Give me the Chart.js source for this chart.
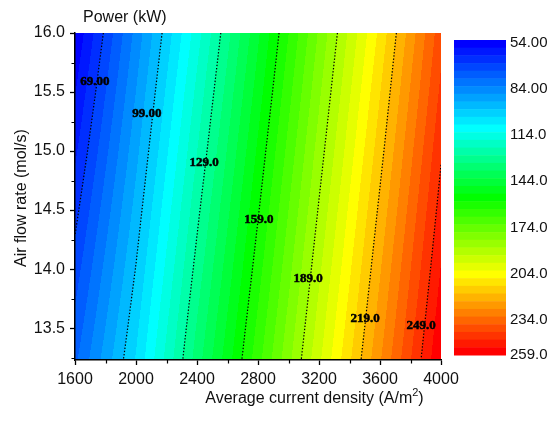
<!DOCTYPE html>
<html>
<head>
<meta charset="utf-8">
<script src="https://cdn.jsdelivr.net/npm/chart.js@4/dist/chart.umd.min.js"></script>
<style>
  html, body { margin: 0; padding: 0; background: #fff; }
</style>
</head>
<body>
<canvas id="chart" width="553" height="421"></canvas>
<script>
// Dados
const currentDensity = [1600, 2000, 2400, 2800, 3200, 3600, 4000];
const airFlow = [13.23, 13.5, 14.0, 14.5, 15.0, 15.5, 16.0];
// Potência (kW): uma linha por valor de airFlow
const powerGrid = [
  [77.9, 104.5, 136.5, 167.1, 198.0, 228.5, 259.0],
  [75.6, 102.7, 134.6, 165.3, 196.2, 226.7, 257.4],
  [71.4, 99.3, 131.0, 161.8, 192.9, 223.5, 254.3],
  [67.2, 95.9, 127.5, 158.4, 189.6, 220.3, 251.3],
  [62.9, 92.5, 123.9, 155.0, 186.3, 217.0, 248.3],
  [58.7, 89.1, 120.4, 151.5, 183.0, 213.8, 245.2],
  [54.5, 85.7, 116.8, 148.1, 179.7, 210.5, 242.2]
];
const contourLevels = [69, 99, 129, 159, 189, 219, 249];
const contourLabels = ['69.00', '99.00', '129.0', '159.0', '189.0', '219.0', '249.0'];
const labelX = [1731, 2072, 2446, 2806, 3128, 3502, 3869];
const labelY = [15.59, 15.32, 14.90, 14.42, 13.92, 13.58, 13.52];
const colorbarTicks = [54, 84, 114, 144, 174, 204, 234, 259];
const colorbarLabels = ['54.00', '84.00', '114.0', '144.0', '174.0', '204.0', '234.0', '259.0'];
const levelMin = 54;
const levelMax = 259;
const levelStep = 5;
const xTicks = [1600, 2000, 2400, 2800, 3200, 3600, 4000];
const xMinorTicks = [1800, 2200, 2600, 3000, 3400, 3800];
const yTicks = [13.5, 14.0, 14.5, 15.0, 15.5, 16.0];
const yMinorTicks = [13.25, 13.75, 14.25, 14.75, 15.25, 15.75];

const FONT = "'Liberation Sans', Arial, sans-serif";
const nBands = Math.round((levelMax - levelMin) / levelStep);

// Paleta arco-íris (azul -> ciano -> verde -> amarelo -> vermelho)
const paletteStops = [
  [0, [0, 0, 255]],
  [0.275, [0, 255, 255]],
  [0.5, [0, 255, 0]],
  [0.75, [255, 255, 0]],
  [1, [255, 0, 0]]
];

function paletteColor(t) {
  for (let k = 0; k < paletteStops.length - 1; k++) {
    const [t0, c0] = paletteStops[k];
    const [t1, c1] = paletteStops[k + 1];
    if (t <= t1) {
      const f = (t - t0) / (t1 - t0);
      return c0.map((c, i) => Math.round(c + (c1[i] - c) * f));
    }
  }
  return paletteStops[paletteStops.length - 1][1];
}

const bandColors = [];
for (let i = 0; i < nBands; i++) bandColors.push(paletteColor(i / (nBands - 1)));

function findCell(arr, v) {
  for (let i = 0; i < arr.length - 2; i++) {
    if (v <= arr[i + 1]) return i;
  }
  return arr.length - 2;
}

// Interpolação bilinear só para pintar o fundo
function powerAt(xv, yv) {
  const i = findCell(currentDensity, xv);
  const j = findCell(airFlow, yv);
  const fx = (xv - currentDensity[i]) / (currentDensity[i + 1] - currentDensity[i]);
  const fy = (yv - airFlow[j]) / (airFlow[j + 1] - airFlow[j]);
  const a = powerGrid[j][i], b = powerGrid[j][i + 1];
  const c = powerGrid[j + 1][i], d = powerGrid[j + 1][i + 1];
  return (a * (1 - fx) + b * fx) * (1 - fy) + (c * (1 - fx) + d * fx) * fy;
}

function bandIndex(v) {
  let b = Math.floor((v - levelMin) / levelStep);
  return Math.max(0, Math.min(nBands - 1, b));
}

// Pontos onde o nível corta as arestas da grade
function contourPoints(level) {
  const pts = [];
  for (let j = 0; j < airFlow.length; j++) {
    for (let i = 0; i < currentDensity.length - 1; i++) {
      const a = powerGrid[j][i], b = powerGrid[j][i + 1];
      if ((a - level) * (b - level) <= 0 && a !== b) {
        const f = (level - a) / (b - a);
        pts.push({ x: currentDensity[i] + f * (currentDensity[i + 1] - currentDensity[i]), y: airFlow[j] });
      }
    }
  }
  for (let i = 0; i < currentDensity.length; i++) {
    for (let j = 0; j < airFlow.length - 1; j++) {
      const a = powerGrid[j][i], b = powerGrid[j + 1][i];
      if ((a - level) * (b - level) < 0) {
        const f = (level - a) / (b - a);
        pts.push({ x: currentDensity[i], y: airFlow[j] + f * (airFlow[j + 1] - airFlow[j]) });
      }
    }
  }
  pts.sort((p, q) => q.y - p.y);
  return pts;
}

const contourPlugin = {
  id: 'contour',
  beforeDraw(chart) {
    const { ctx, chartArea: a, scales: { x, y } } = chart;
    const left = Math.round(a.left), top = Math.round(a.top);
    const w = Math.round(a.right) - left, h = Math.round(a.bottom) - top;
    const img = ctx.createImageData(w, h);
    for (let py = 0; py < h; py++) {
      const yv = y.getValueForPixel(top + py + 0.5);
      for (let px = 0; px < w; px++) {
        const xv = x.getValueForPixel(left + px + 0.5);
        const c = bandColors[bandIndex(powerAt(xv, yv))];
        const k = (py * w + px) * 4;
        img.data[k] = c[0];
        img.data[k + 1] = c[1];
        img.data[k + 2] = c[2];
        img.data[k + 3] = 255;
      }
    }
    ctx.putImageData(img, left, top);
  },
  afterDatasetsDraw(chart) {
    const { ctx, chartArea: a, scales: { x, y } } = chart;
    ctx.save();
    ctx.beginPath();
    ctx.rect(a.left, a.top, a.right - a.left, a.bottom - a.top);
    ctx.clip();
    ctx.strokeStyle = '#000';
    ctx.lineWidth = 1.2;
    ctx.setLineDash([1.4, 1.8]);
    contourLevels.forEach(level => {
      const pts = contourPoints(level);
      if (pts.length < 2) return;
      ctx.beginPath();
      pts.forEach((p, k) => {
        const px = x.getPixelForValue(p.x), py = y.getPixelForValue(p.y);
        if (k === 0) ctx.moveTo(px, py); else ctx.lineTo(px, py);
      });
      ctx.stroke();
    });
    ctx.restore();

    // Rótulos das curvas
    ctx.save();
    ctx.fillStyle = '#000';
    ctx.strokeStyle = '#000';
    ctx.lineWidth = 0.5;
    ctx.font = "bold 13px 'Liberation Serif', 'Times New Roman', serif";
    ctx.textAlign = 'center';
    ctx.textBaseline = 'middle';
    contourLabels.forEach((txt, k) => {
      const px = x.getPixelForValue(labelX[k]), py = y.getPixelForValue(labelY[k]);
      ctx.fillText(txt, px, py);
      ctx.strokeText(txt, px, py);
    });
    ctx.restore();
  },
  afterDraw(chart) {
    const { ctx, scales: { x, y } } = chart;
    ctx.save();
    // Ticks menores
    ctx.strokeStyle = '#000';
    ctx.lineWidth = 1.2;
    ctx.beginPath();
    xMinorTicks.forEach(v => {
      const px = Math.round(x.getPixelForValue(v)) + 0.5;
      ctx.moveTo(px, y.bottom);
      ctx.lineTo(px, y.bottom + 3.5);
    });
    yMinorTicks.forEach(v => {
      const py = Math.round(y.getPixelForValue(v)) + 0.5;
      ctx.moveTo(x.left, py);
      ctx.lineTo(x.left - 3.5, py);
    });
    ctx.stroke();

    // Barra de cores
    const cbLeft = 454, cbWidth = 52, cbTop = 40, cbBottom = 355;
    const bandH = (cbBottom - cbTop) / nBands;
    for (let i = 0; i < nBands; i++) {
      const c = bandColors[i];
      ctx.fillStyle = `rgb(${c[0]},${c[1]},${c[2]})`;
      ctx.fillRect(cbLeft, cbTop + i * bandH, cbWidth, bandH + 0.5);
    }
    ctx.fillStyle = '#111';
    ctx.font = `15px ${FONT}`;
    ctx.textAlign = 'left';
    ctx.textBaseline = 'middle';
    colorbarTicks.forEach((v, k) => {
      let py = cbTop + (v - levelMin) / (levelMax - levelMin) * (cbBottom - cbTop) + 3;
      py = Math.max(cbTop + 1.5, Math.min(cbBottom, py));
      ctx.fillText(colorbarLabels[k], 510, py);
    });

    // Títulos
    ctx.font = `16px ${FONT}`;
    ctx.textBaseline = 'alphabetic';
    ctx.fillText('Power (kW)', 83, 21.5);

    const main = 'Average current density (A/m';
    const sup = '2';
    const tail = ')';
    const wMain = ctx.measureText(main).width;
    const wTail = ctx.measureText(tail).width;
    ctx.font = `11px ${FONT}`;
    const wSup = ctx.measureText(sup).width;
    const total = wMain + wSup + wTail;
    let tx = 314.5 - total / 2;
    ctx.font = `16px ${FONT}`;
    ctx.fillText(main, tx, 403);
    ctx.font = `11px ${FONT}`;
    ctx.fillText(sup, tx + wMain, 395.5);
    ctx.font = `16px ${FONT}`;
    ctx.fillText(tail, tx + wMain + wSup, 403);

    ctx.translate(26, 198);
    ctx.rotate(-Math.PI / 2);
    ctx.textAlign = 'center';
    ctx.fillText('Air flow rate (mol/s)', 0, 0);
    ctx.restore();
  }
};

const gridPoints = [];
airFlow.forEach((yv, j) => currentDensity.forEach((xv, i) => gridPoints.push({ x: xv, y: yv, v: powerGrid[j][i] })));

new Chart(document.getElementById('chart'), {
  type: 'scatter',
  data: {
    datasets: [{ data: gridPoints, pointRadius: 0, pointHoverRadius: 0 }]
  },
  options: {
    responsive: false,
    animation: false,
    devicePixelRatio: 1,
    layout: { padding: { top: 33, right: 112, left: 0, bottom: 0 } },
    plugins: { legend: { display: false }, tooltip: { enabled: false } },
    events: [],
    scales: {
      x: {
        type: 'linear',
        min: 1600,
        max: 4000,
        afterFit: s => { s.height = 61; },
        afterBuildTicks: s => { s.ticks = xTicks.map(v => ({ value: v })); },
        ticks: {
          autoSkip: false,
          maxRotation: 0,
          padding: 5,
          color: '#111',
          font: { family: FONT, size: 16 },
          callback: v => String(v)
        },
        grid: { drawOnChartArea: false, drawTicks: true, tickLength: 5, tickWidth: 1.3, tickColor: '#000' },
        border: { display: true, color: '#000', width: 1.5 }
      },
      y: {
        type: 'linear',
        min: 13.23,
        max: 16.0,
        afterFit: s => { s.width = 75; },
        afterBuildTicks: s => { s.ticks = yTicks.map(v => ({ value: v })); },
        ticks: {
          autoSkip: false,
          padding: 5,
          color: '#111',
          font: { family: FONT, size: 16 },
          callback: v => v.toFixed(1)
        },
        grid: { drawOnChartArea: false, drawTicks: true, tickLength: 5, tickWidth: 1.3, tickColor: '#000' },
        border: { display: true, color: '#000', width: 1.5 }
      }
    }
  },
  plugins: [contourPlugin]
});
</script>
</body>
</html>
